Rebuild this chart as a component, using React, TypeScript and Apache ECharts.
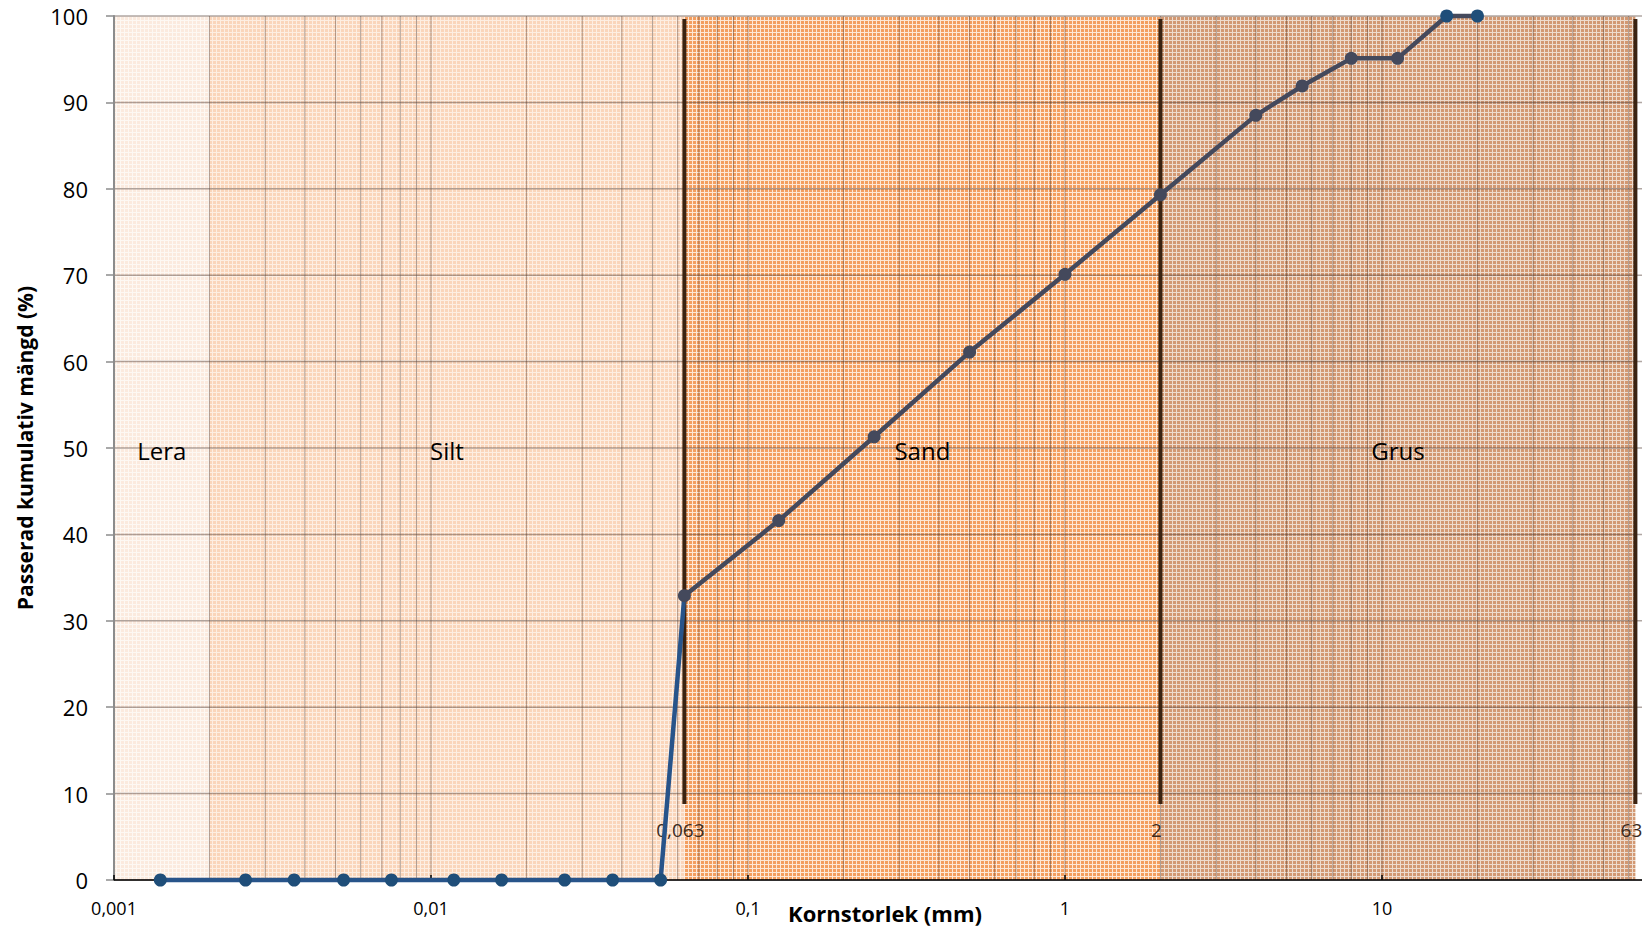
import React, { useEffect, useRef } from 'react';
import * as echarts from 'echarts';

// ---------- data ----------
const zoneNames = ['Lera', 'Silt', 'Sand', 'Grus'];
const zoneStart = [0.001, 0.002, 0.063, 2];
const zoneEnd = [0.002, 0.063, 2, 63];
const boundaryValues = [0.063, 2, 63];

const grainSize = [
  0.0014, 0.0026, 0.0037, 0.0053, 0.0075, 0.0118, 0.0167, 0.0264, 0.0374, 0.053,
  0.063, 0.125, 0.25, 0.5, 1, 2, 4, 5.6, 8, 11.2, 16, 20,
];
const passing = [
  0, 0, 0, 0, 0, 0, 0, 0, 0, 0,
  32.9, 41.6, 51.3, 61.1, 70.1, 79.3, 88.5, 91.9, 95.1, 95.1, 100, 100,
];

const yTicks = [0, 10, 20, 30, 40, 50, 60, 70, 80, 90, 100];
const xDecades = [0.001, 0.01, 0.1, 1, 10];
const xMantissas = [1, 2, 3, 4, 5, 6, 7, 8, 9];
const xMin = 0.001;
const xMax = 100;

const xTitle = 'Kornstorlek (mm)';
const yTitle = 'Passerad kumulativ mängd (%)';

// ---------- styles ----------
const FONT = '"Open Sans", "DejaVu Sans", sans-serif';
// [cell colour, mesh colour] per zone
const zoneTiles = [
  ['rgb(251,234,222)', 'rgb(253,248,243)'],
  ['rgb(250,213,186)', 'rgb(253,238,226)'],
  ['rgb(243,158,95)', 'rgb(253,232,215)'],
  ['rgb(210,152,114)', 'rgb(238,220,206)'],
];
const gridColor = 'rgba(80,60,50,0.45)';
const blue = '#1f4e79';
const slate = '#44495c';

const CHART_W = 1699;
const CHART_H = 927;

function fmt(v: number): string {
  return parseFloat(Number(v).toPrecision(6)).toString().replace('.', ',');
}

function makeTile(cell: string, mesh: string): HTMLCanvasElement {
  const c = document.createElement('canvas');
  c.width = 4;
  c.height = 4;
  const ctx = c.getContext('2d')!;
  ctx.fillStyle = cell;
  ctx.fillRect(0, 0, 4, 4);
  ctx.fillStyle = mesh;
  ctx.fillRect(0, 0, 4, 1);
  ctx.fillRect(0, 0, 1, 4);
  return c;
}

export default function App() {
  const ref = useRef<HTMLDivElement>(null);

  useEffect(() => {
    if (!ref.current) return;
    const chart = echarts.init(ref.current, undefined, { renderer: 'svg' });

    const vGrid: number[] = [];
    xDecades.forEach((d) => xMantissas.forEach((m) => vGrid.push(parseFloat((d * m).toPrecision(6)))));
    vGrid.push(xMax);

    const patterns = zoneTiles.map(([cell, mesh]) => ({
      image: makeTile(cell, mesh),
      repeat: 'repeat',
    }));

    const lg = (v: number) => Math.log10(v);
    const first = grainSize[0];
    const last = grainSize[grainSize.length - 1];
    const off = (lg(boundaryValues[0]) - lg(first)) / (lg(last) - lg(first));
    const lineGradient = new echarts.graphic.LinearGradient(0, 0, 1, 0, [
      { offset: 0, color: '#28548a' },
      { offset: off, color: '#28548a' },
      { offset: Math.min(1, off + 0.001), color: slate },
      { offset: 1, color: slate },
    ]);

    const lineData = grainSize.map((x, i) => ({
      value: [x, passing[i]],
      itemStyle: { color: x < boundaryValues[0] || passing[i] >= 100 ? blue : slate },
    }));

    const option: any = {
      animation: false,
      grid: {
        left: 114,
        top: 16,
        right: 0,
        bottom: 47,
        containLabel: false,
        outerBoundsMode: 'none',
      },
      xAxis: {
        type: 'log',
        logBase: 10,
        min: xMin,
        max: xMax,
        z: 10,
        axisLine: { show: true, onZero: false, lineStyle: { color: '#000', width: 1.5 } },
        axisTick: { show: true, inside: true, length: 5, lineStyle: { color: '#000', width: 1.5 } },
        axisLabel: {
          formatter: fmt,
          fontSize: 18,
          fontFamily: FONT,
          color: '#000',
          margin: 19,
          showMaxLabel: false,
        },
        splitLine: { show: false },
        minorTick: { show: false },
        minorSplitLine: { show: false },
      },
      yAxis: {
        type: 'value',
        min: 0,
        max: 100,
        interval: 10,
        z: 10,
        axisLine: { show: true, lineStyle: { color: '#8c8c8c', width: 2 } },
        axisTick: { show: true, inside: false, length: 8, lineStyle: { color: '#8c8c8c', width: 1.5 } },
        axisLabel: { fontSize: 22, fontFamily: FONT, color: '#000', margin: 26 },
        splitLine: { show: false },
      },
      graphic: [
        {
          type: 'text',
          x: 25,
          y: 448,
          rotation: Math.PI / 2,
          style: {
            text: yTitle,
            fontSize: 21,
            fontWeight: 'bold',
            fontFamily: FONT,
            fill: '#000',
            align: 'center',
            verticalAlign: 'middle',
          },
        },
        {
          type: 'text',
          x: 885,
          y: 913,
          style: {
            text: xTitle,
            fontSize: 22,
            fontWeight: 'bold',
            fontFamily: FONT,
            fill: '#000',
            align: 'center',
            verticalAlign: 'middle',
          },
        },
      ],
      series: [
        {
          name: 'zones',
          type: 'custom',
          z: 1,
          silent: true,
          data: zoneStart.map((s, i) => [s, zoneEnd[i], 0]),
          encode: { x: [0, 1], y: 2 },
          renderItem: (params: any, api: any) => {
            const a = api.coord([api.value(0), 100]);
            const b = api.coord([api.value(1), 0]);
            return {
              type: 'rect',
              shape: { x: a[0], y: a[1], width: b[0] - a[0], height: b[1] - a[1] },
              style: { fill: patterns[params.dataIndex] },
            };
          },
        },
        {
          name: 'vgrid',
          type: 'custom',
          z: 2,
          silent: true,
          data: vGrid.map((v) => [v, 0]),
          encode: { x: 0, y: 1 },
          renderItem: (params: any, api: any) => {
            const a = api.coord([api.value(0), 0]);
            const b = api.coord([api.value(0), 100]);
            return {
              type: 'line',
              shape: { x1: a[0], y1: a[1], x2: b[0], y2: b[1] },
              style: { stroke: gridColor, lineWidth: 1 },
            };
          },
        },
        {
          name: 'hgrid',
          type: 'custom',
          z: 2,
          silent: true,
          data: yTicks.map((y) => [xMin, y]),
          encode: { x: 0, y: 1 },
          renderItem: (params: any, api: any) => {
            const a = api.coord([xMin, api.value(1)]);
            const b = api.coord([xMax, api.value(1)]);
            return {
              type: 'line',
              shape: { x1: a[0], y1: a[1], x2: b[0], y2: b[1] },
              style: { stroke: gridColor, lineWidth: 1.5 },
            };
          },
        },
        {
          name: 'boundaries',
          type: 'custom',
          z: 5,
          silent: true,
          data: boundaryValues.map((v) => [v, 0]),
          encode: { x: 0, y: 1 },
          renderItem: (params: any, api: any) => {
            const v = api.value(0);
            const top = api.coord([v, 100]);
            const bot = api.coord([v, 0]);
            return {
              type: 'group',
              children: [
                {
                  type: 'line',
                  shape: { x1: top[0], y1: top[1] + 3, x2: bot[0], y2: bot[1] - 76 },
                  style: { stroke: '#3a2312', lineWidth: 4 },
                },
                {
                  type: 'text',
                  x: bot[0] - 4,
                  y: bot[1] - 50,
                  style: {
                    text: fmt(v),
                    fontSize: 19,
                    fontFamily: FONT,
                    fill: '#3b2b22',
                    align: 'center',
                    verticalAlign: 'middle',
                  },
                },
              ],
            };
          },
        },
        {
          name: 'Passerad',
          type: 'line',
          z: 20,
          clip: false,
          silent: true,
          data: lineData,
          symbol: 'circle',
          symbolSize: 13,
          lineStyle: { width: 4.5, color: lineGradient },
          itemStyle: { color: slate },
        },
        {
          name: 'zoneLabels',
          type: 'custom',
          z: 30,
          silent: true,
          data: zoneStart.map((s, i) => [Math.sqrt(s * zoneEnd[i]), 50]),
          encode: { x: 0, y: 1 },
          renderItem: (params: any, api: any) => {
            const p = api.coord([api.value(0), api.value(1)]);
            return {
              type: 'text',
              x: p[0],
              y: p[1] + 2,
              style: {
                text: zoneNames[params.dataIndex],
                fontSize: 24,
                fontFamily: FONT,
                fill: '#000',
                align: 'center',
                verticalAlign: 'middle',
              },
            };
          },
        },
      ],
    };

    chart.setOption(option);
    return () => chart.dispose();
  }, []);

  return (
    <div
      style={{
        position: 'absolute',
        left: 0,
        top: 0,
        width: 1642,
        height: 927,
        overflow: 'hidden',
        background: '#fff',
      }}
    >
      <div ref={ref} style={{ width: CHART_W, height: CHART_H }} />
    </div>
  );
}
